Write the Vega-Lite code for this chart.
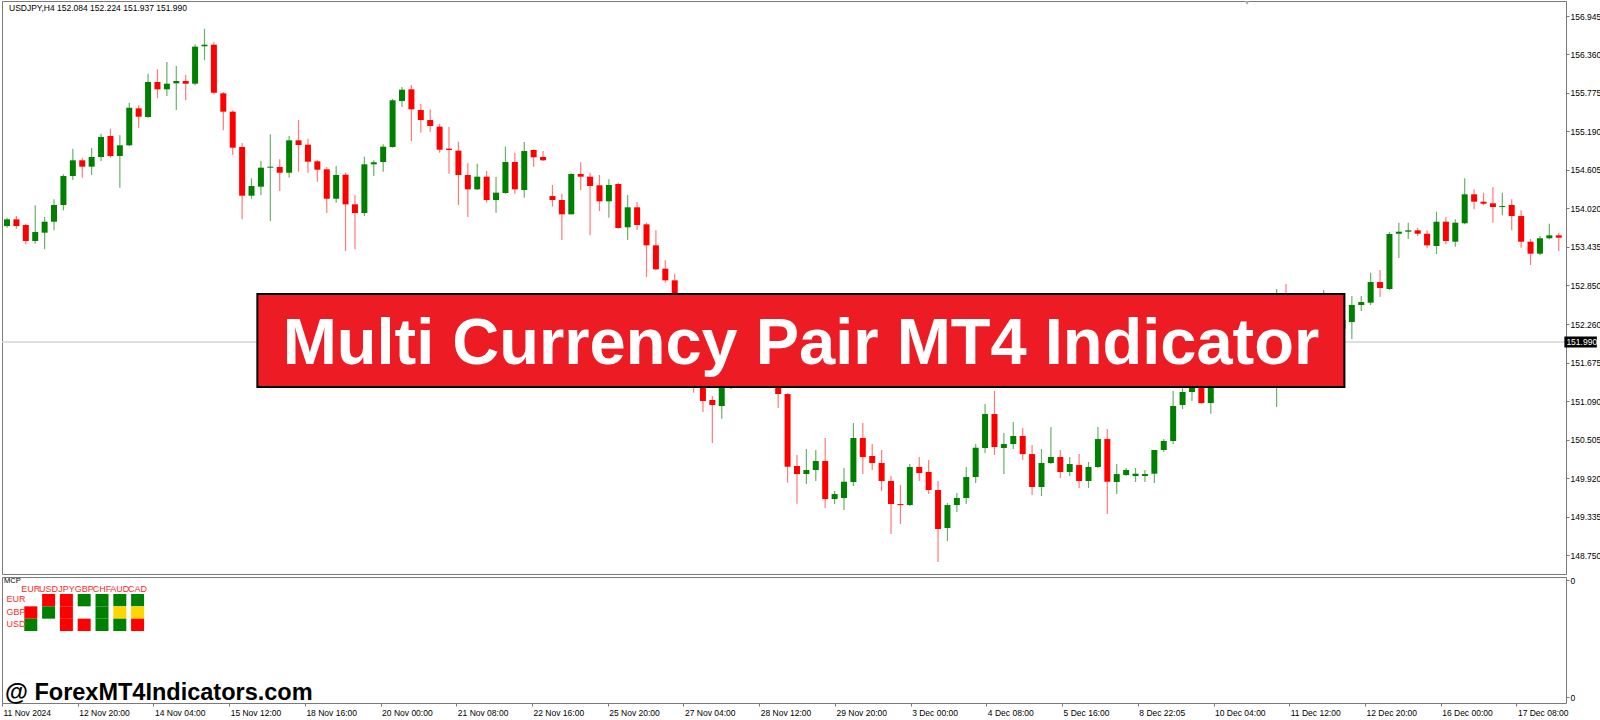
{
"$schema": "https://vega.github.io/schema/vega-lite/v6.json",
"padding": 0,
"spacing": 3,
"bounds": "flush",
"background": "#ffffff",
"config": {
  "font": "Liberation Sans",
  "view": {"stroke": "#7a7a7a", "strokeWidth": 1},
  "axis": {"grid": false, "domain": false, "labelFont": "Liberation Sans", "labelFontSize": 8.5, "labelColor": "#000000", "tickColor": "#7a7a7a", "title": null}
},
"datasets": {
"candles": [
{"i":0,"o":153.753,"h":153.880,"l":153.728,"c":153.855},
{"i":1,"o":153.855,"h":153.905,"l":153.712,"c":153.753},
{"i":2,"o":153.769,"h":153.788,"l":153.475,"c":153.526},
{"i":3,"o":153.526,"h":154.068,"l":153.484,"c":153.662},
{"i":4,"o":153.652,"h":153.890,"l":153.399,"c":153.819},
{"i":5,"o":153.819,"h":154.159,"l":153.688,"c":154.073},
{"i":6,"o":154.073,"h":154.539,"l":153.992,"c":154.513},
{"i":7,"o":154.513,"h":154.928,"l":154.453,"c":154.752},
{"i":8,"o":154.752,"h":154.792,"l":154.488,"c":154.655},
{"i":9,"o":154.655,"h":154.939,"l":154.529,"c":154.802},
{"i":10,"o":154.802,"h":155.156,"l":154.741,"c":155.106},
{"i":11,"o":155.121,"h":155.232,"l":154.792,"c":154.817},
{"i":12,"o":154.817,"h":155.132,"l":154.336,"c":154.980},
{"i":13,"o":154.980,"h":155.627,"l":154.969,"c":155.551},
{"i":14,"o":155.542,"h":155.588,"l":155.247,"c":155.415},
{"i":15,"o":155.410,"h":156.068,"l":155.399,"c":155.942},
{"i":16,"o":155.942,"h":156.135,"l":155.694,"c":155.831},
{"i":17,"o":155.831,"h":156.246,"l":155.729,"c":155.916},
{"i":18,"o":155.922,"h":156.185,"l":155.516,"c":155.957},
{"i":19,"o":155.957,"h":156.048,"l":155.664,"c":155.916},
{"i":20,"o":155.916,"h":156.515,"l":155.892,"c":156.479},
{"i":21,"o":156.485,"h":156.752,"l":156.272,"c":156.509},
{"i":22,"o":156.509,"h":156.550,"l":155.755,"c":155.779},
{"i":23,"o":155.770,"h":155.790,"l":155.208,"c":155.491},
{"i":24,"o":155.491,"h":155.512,"l":154.833,"c":154.944},
{"i":25,"o":154.954,"h":155.015,"l":153.855,"c":154.214},
{"i":26,"o":154.214,"h":154.478,"l":154.168,"c":154.361},
{"i":27,"o":154.351,"h":154.741,"l":154.220,"c":154.640},
{"i":28,"o":154.640,"h":155.147,"l":153.829,"c":154.655},
{"i":29,"o":154.650,"h":154.767,"l":154.285,"c":154.563},
{"i":30,"o":154.563,"h":155.121,"l":154.488,"c":155.056},
{"i":31,"o":155.056,"h":155.364,"l":154.579,"c":154.984},
{"i":32,"o":154.989,"h":155.080,"l":154.563,"c":154.731},
{"i":33,"o":154.737,"h":154.757,"l":154.427,"c":154.609},
{"i":34,"o":154.615,"h":154.650,"l":153.951,"c":154.168},
{"i":35,"o":154.168,"h":154.665,"l":154.108,"c":154.529},
{"i":36,"o":154.533,"h":154.563,"l":153.374,"c":154.083},
{"i":37,"o":154.083,"h":154.220,"l":153.399,"c":153.951},
{"i":38,"o":153.951,"h":154.807,"l":153.905,"c":154.691},
{"i":39,"o":154.691,"h":154.752,"l":154.513,"c":154.722},
{"i":40,"o":154.726,"h":154.995,"l":154.579,"c":154.959},
{"i":41,"o":154.954,"h":155.688,"l":154.944,"c":155.664},
{"i":42,"o":155.653,"h":155.866,"l":155.562,"c":155.825},
{"i":43,"o":155.831,"h":155.896,"l":155.045,"c":155.527},
{"i":44,"o":155.516,"h":155.612,"l":155.171,"c":155.364},
{"i":45,"o":155.364,"h":155.527,"l":155.187,"c":155.273},
{"i":46,"o":155.263,"h":155.308,"l":154.868,"c":154.913},
{"i":47,"o":154.928,"h":155.258,"l":154.548,"c":154.909},
{"i":48,"o":154.898,"h":155.035,"l":154.073,"c":154.529},
{"i":49,"o":154.529,"h":154.706,"l":153.890,"c":154.311},
{"i":50,"o":154.311,"h":154.700,"l":154.301,"c":154.503},
{"i":51,"o":154.503,"h":154.589,"l":154.108,"c":154.149},
{"i":52,"o":154.149,"h":154.498,"l":153.956,"c":154.260},
{"i":53,"o":154.255,"h":154.959,"l":154.244,"c":154.726},
{"i":54,"o":154.726,"h":154.868,"l":154.244,"c":154.311},
{"i":55,"o":154.301,"h":155.030,"l":154.184,"c":154.893},
{"i":56,"o":154.909,"h":154.919,"l":154.655,"c":154.798},
{"i":57,"o":154.802,"h":154.893,"l":154.741,"c":154.752},
{"i":58,"o":154.209,"h":154.377,"l":154.047,"c":154.149},
{"i":59,"o":154.149,"h":154.244,"l":153.541,"c":153.931},
{"i":60,"o":153.931,"h":154.554,"l":153.931,"c":154.544},
{"i":61,"o":154.544,"h":154.722,"l":154.301,"c":154.503},
{"i":62,"o":154.503,"h":154.563,"l":153.612,"c":154.361},
{"i":63,"o":154.372,"h":154.529,"l":153.981,"c":154.129},
{"i":64,"o":154.129,"h":154.463,"l":153.880,"c":154.377},
{"i":65,"o":154.392,"h":154.412,"l":153.712,"c":153.723},
{"i":66,"o":153.734,"h":154.225,"l":153.541,"c":154.038},
{"i":67,"o":154.038,"h":154.118,"l":153.693,"c":153.769},
{"i":68,"o":153.779,"h":153.804,"l":152.978,"c":153.460},
{"i":69,"o":153.460,"h":153.688,"l":153.080,"c":153.095},
{"i":70,"o":153.105,"h":153.232,"l":152.892,"c":152.928},
{"i":71,"o":152.928,"h":153.029,"l":152.538,"c":152.614},
{"i":72,"o":152.614,"h":152.690,"l":152.158,"c":152.310},
{"i":73,"o":152.340,"h":152.401,"l":151.220,"c":151.474},
{"i":74,"o":151.519,"h":151.611,"l":150.927,"c":151.094},
{"i":75,"o":151.109,"h":151.170,"l":150.456,"c":151.033},
{"i":76,"o":151.018,"h":151.550,"l":150.825,"c":151.428},
{"i":77,"o":151.428,"h":151.854,"l":151.276,"c":151.778},
{"i":78,"o":151.763,"h":152.112,"l":151.671,"c":152.006},
{"i":79,"o":151.991,"h":152.082,"l":151.702,"c":151.823},
{"i":80,"o":151.854,"h":152.279,"l":151.763,"c":152.158},
{"i":81,"o":152.158,"h":152.234,"l":151.626,"c":151.702},
{"i":82,"o":151.702,"h":151.778,"l":150.987,"c":151.200},
{"i":83,"o":151.200,"h":151.215,"l":149.852,"c":150.095},
{"i":84,"o":150.106,"h":150.273,"l":149.533,"c":149.984},
{"i":85,"o":149.984,"h":150.364,"l":149.832,"c":150.045},
{"i":86,"o":150.045,"h":150.349,"l":149.878,"c":150.182},
{"i":87,"o":150.182,"h":150.532,"l":149.468,"c":149.604},
{"i":88,"o":149.604,"h":149.726,"l":149.528,"c":149.680},
{"i":89,"o":149.620,"h":150.076,"l":149.437,"c":149.867},
{"i":90,"o":149.863,"h":150.759,"l":149.802,"c":150.532},
{"i":91,"o":150.532,"h":150.759,"l":149.984,"c":150.243},
{"i":92,"o":150.258,"h":150.440,"l":150.045,"c":150.152},
{"i":93,"o":150.152,"h":150.349,"l":149.726,"c":149.878},
{"i":94,"o":149.878,"h":149.954,"l":149.073,"c":149.528},
{"i":95,"o":149.528,"h":149.817,"l":149.224,"c":149.512},
{"i":96,"o":149.513,"h":150.136,"l":149.498,"c":150.091},
{"i":97,"o":150.091,"h":150.243,"l":149.878,"c":149.999},
{"i":98,"o":150.015,"h":150.197,"l":149.680,"c":149.741},
{"i":99,"o":149.741,"h":149.878,"l":148.647,"c":149.149},
{"i":100,"o":149.164,"h":149.544,"l":148.966,"c":149.513},
{"i":101,"o":149.513,"h":149.696,"l":149.407,"c":149.620},
{"i":102,"o":149.620,"h":150.091,"l":149.528,"c":149.939},
{"i":103,"o":149.939,"h":150.440,"l":149.848,"c":150.384},
{"i":104,"o":150.380,"h":151.048,"l":150.304,"c":150.896},
{"i":105,"o":150.896,"h":151.246,"l":150.273,"c":150.395},
{"i":106,"o":150.380,"h":150.608,"l":149.984,"c":150.440},
{"i":107,"o":150.440,"h":150.775,"l":150.364,"c":150.562},
{"i":108,"o":150.562,"h":150.684,"l":150.197,"c":150.288},
{"i":109,"o":150.288,"h":150.425,"l":149.665,"c":149.787},
{"i":110,"o":149.787,"h":150.364,"l":149.650,"c":150.152},
{"i":111,"o":150.152,"h":150.699,"l":150.136,"c":150.243},
{"i":112,"o":150.243,"h":150.349,"l":149.924,"c":150.015},
{"i":113,"o":150.015,"h":150.243,"l":149.954,"c":150.136},
{"i":114,"o":150.121,"h":150.288,"l":149.772,"c":149.878},
{"i":115,"o":149.878,"h":150.167,"l":149.772,"c":150.091},
{"i":116,"o":150.091,"h":150.699,"l":150.076,"c":150.516},
{"i":117,"o":150.516,"h":150.668,"l":149.376,"c":149.867},
{"i":118,"o":149.863,"h":150.136,"l":149.680,"c":149.984},
{"i":119,"o":149.969,"h":150.076,"l":149.954,"c":150.045},
{"i":120,"o":149.954,"h":150.076,"l":149.863,"c":149.989},
{"i":121,"o":149.954,"h":150.045,"l":149.863,"c":149.984},
{"i":122,"o":149.989,"h":150.349,"l":149.848,"c":150.349},
{"i":123,"o":150.349,"h":150.516,"l":150.319,"c":150.486},
{"i":124,"o":150.486,"h":151.246,"l":150.440,"c":151.018},
{"i":125,"o":151.033,"h":151.291,"l":150.972,"c":151.231},
{"i":126,"o":151.231,"h":151.519,"l":151.094,"c":151.428},
{"i":127,"o":151.550,"h":151.626,"l":151.048,"c":151.063},
{"i":128,"o":151.063,"h":151.671,"l":150.901,"c":151.519},
{"i":129,"o":151.519,"h":151.626,"l":151.322,"c":151.398},
{"i":130,"o":151.398,"h":151.854,"l":151.337,"c":151.778},
{"i":131,"o":151.763,"h":152.036,"l":151.671,"c":151.930},
{"i":132,"o":151.930,"h":152.006,"l":151.611,"c":151.702},
{"i":133,"o":151.702,"h":152.127,"l":151.641,"c":152.036},
{"i":134,"o":152.036,"h":152.158,"l":151.732,"c":151.823},
{"i":135,"o":151.823,"h":152.796,"l":151.003,"c":152.158},
{"i":136,"o":152.158,"h":152.872,"l":151.854,"c":151.930},
{"i":137,"o":151.930,"h":152.234,"l":151.823,"c":152.082},
{"i":138,"o":152.082,"h":152.188,"l":151.778,"c":151.884},
{"i":139,"o":151.884,"h":152.340,"l":151.823,"c":152.234},
{"i":140,"o":152.234,"h":152.781,"l":152.158,"c":152.386},
{"i":141,"o":152.386,"h":152.492,"l":152.067,"c":152.158},
{"i":142,"o":152.188,"h":152.431,"l":152.112,"c":152.325},
{"i":143,"o":152.294,"h":152.690,"l":152.036,"c":152.553},
{"i":144,"o":152.553,"h":152.690,"l":152.462,"c":152.598},
{"i":145,"o":152.588,"h":153.044,"l":152.553,"c":152.902},
{"i":146,"o":152.902,"h":153.085,"l":152.674,"c":152.811},
{"i":147,"o":152.796,"h":153.662,"l":152.781,"c":153.632},
{"i":148,"o":153.636,"h":153.804,"l":153.267,"c":153.667},
{"i":149,"o":153.667,"h":153.804,"l":153.556,"c":153.688},
{"i":150,"o":153.688,"h":153.728,"l":153.602,"c":153.636},
{"i":151,"o":153.636,"h":153.688,"l":153.415,"c":153.460},
{"i":152,"o":153.450,"h":153.971,"l":153.328,"c":153.819},
{"i":153,"o":153.819,"h":153.890,"l":153.475,"c":153.526},
{"i":154,"o":153.515,"h":153.855,"l":153.439,"c":153.804},
{"i":155,"o":153.795,"h":154.478,"l":153.779,"c":154.235},
{"i":156,"o":154.235,"h":154.311,"l":154.007,"c":154.123},
{"i":157,"o":154.123,"h":154.260,"l":154.068,"c":154.092},
{"i":158,"o":154.098,"h":154.346,"l":153.804,"c":154.042},
{"i":159,"o":154.042,"h":154.260,"l":153.916,"c":154.057},
{"i":160,"o":154.073,"h":154.159,"l":153.688,"c":153.905},
{"i":161,"o":153.905,"h":153.992,"l":153.424,"c":153.515},
{"i":162,"o":153.515,"h":153.556,"l":153.161,"c":153.333},
{"i":163,"o":153.333,"h":153.602,"l":153.313,"c":153.567},
{"i":164,"o":153.567,"h":153.788,"l":153.551,"c":153.612},
{"i":165,"o":153.612,"h":153.652,"l":153.374,"c":153.576}
],
"mcp": [
{"cur":"EUR","base":"GBP","state":"down"},{"cur":"EUR","base":"USD","state":"up"},
{"cur":"USD","base":"EUR","state":"down"},{"cur":"USD","base":"GBP","state":"up"},
{"cur":"JPY","base":"EUR","state":"down"},{"cur":"JPY","base":"GBP","state":"down"},{"cur":"JPY","base":"USD","state":"down"},
{"cur":"GBP","base":"EUR","state":"up"},{"cur":"GBP","base":"USD","state":"down"},
{"cur":"CHF","base":"EUR","state":"up"},{"cur":"CHF","base":"GBP","state":"up"},{"cur":"CHF","base":"USD","state":"up"},
{"cur":"AUD","base":"EUR","state":"up"},{"cur":"AUD","base":"GBP","state":"flat"},{"cur":"AUD","base":"USD","state":"up"},
{"cur":"CAD","base":"EUR","state":"up"},{"cur":"CAD","base":"GBP","state":"flat"},{"cur":"CAD","base":"USD","state":"down"}
],
"header": [{"t":"USDJPY,H4  152.084 152.224 151.937 151.990"}],
"banner": [{"t":"Multi Currency Pair MT4 Indicator"}],
"bid": [{"t":"151.990","p":151.990}],
"water": [{"t":"@ ForexMT4Indicators.com"}],
"mcpname": [{"t":"MCP"}]
},
"vconcat": [
{
  "width": 1564,
  "height": 573,
  "layer": [
    {
      "data": {"name": "candles"},
      "mark": {"type": "rule", "strokeWidth": 1.2, "clip": true},
      "encoding": {
        "x": {"field": "i", "type": "quantitative", "scale": {"domain": [0, 165.24], "nice": false, "zero": false}, "axis": null},
        "y": {"field": "l", "type": "quantitative", "scale": {"domain": [148.465, 157.173], "nice": false, "zero": false},
              "axis": {"orient": "right", "values": [148.75,149.335,149.92,150.505,151.09,151.675,152.26,152.85,153.435,154.02,154.605,155.19,155.775,156.36,156.945], "format": ".3f", "tickSize": 3, "labelPadding": 1}},
        "y2": {"field": "h"},
        "color": {"condition": {"test": "datum.c >= datum.o", "value": "#6bb06b"}, "value": "#ff7a7a"}
      }
    },
    {
      "data": {"name": "bid"},
      "mark": {"type": "rule", "color": "#d4d4d4", "strokeWidth": 1.5},
      "encoding": {"y": {"field": "p", "type": "quantitative"}}
    },
    {
      "data": {"name": "candles"},
      "mark": {"type": "bar", "width": 6, "clip": true},
      "encoding": {
        "x": {"field": "i", "type": "quantitative"},
        "y": {"field": "o", "type": "quantitative"},
        "y2": {"field": "c"},
        "color": {"condition": {"test": "datum.c >= datum.o", "value": "#008000"}, "value": "#ff0000"}
      }
    },
    {
      "data": {"name": "banner"},
      "mark": {"type": "rect", "fill": "#ed1c24", "stroke": "#000000", "strokeWidth": 2},
      "encoding": {
        "x": {"datum": 26.62, "type": "quantitative"},
        "x2": {"datum": 142.21},
        "y": {"datum": 152.720, "type": "quantitative"},
        "y2": {"datum": 151.307}
      }
    },
    {
      "data": {"name": "banner"},
      "mark": {"type": "text", "font": "Liberation Sans", "fontWeight": "bold", "fontSize": 65, "color": "#ffffff", "align": "center", "baseline": "middle", "dy": 3},
      "encoding": {
        "x": {"datum": 84.42, "type": "quantitative"},
        "y": {"datum": 152.006, "type": "quantitative"},
        "text": {"field": "t"}
      }
    },
    {
      "data": {"name": "header"},
      "mark": {"type": "text", "fontSize": 8.5, "color": "#000000", "align": "left", "baseline": "middle", "dx": 2},
      "encoding": {
        "x": {"datum": 0, "type": "quantitative"},
        "y": {"datum": 157.067, "type": "quantitative"},
        "text": {"field": "t"}
      }
    },
    {
      "data": {"name": "bid"},
      "mark": {"type": "rect", "fill": "#000000"},
      "encoding": {
        "x": {"datum": 165.6, "type": "quantitative"},
        "x2": {"datum": 169.05},
        "y": {"datum": 152.074, "type": "quantitative"},
        "y2": {"datum": 151.906}
      }
    },
    {
      "data": {"name": "bid"},
      "mark": {"type": "text", "fontSize": 8.5, "color": "#ffffff", "align": "left", "baseline": "middle", "dx": 2},
      "encoding": {
        "x": {"datum": 165.6, "type": "quantitative"},
        "y": {"field": "p", "type": "quantitative"},
        "text": {"field": "t"}
      }
    },
    {
      "data": {"name": "header"},
      "mark": {"type": "point", "shape": "triangle-down", "filled": true, "color": "#a8a8a8", "size": 45, "opacity": 1, "clip": true},
      "encoding": {
        "x": {"datum": 131.86, "type": "quantitative"},
        "y": {"datum": 157.16, "type": "quantitative"}
      }
    }
  ]
},
{
  "width": 1564,
  "height": 126,
  "resolve": {"scale": {"x": "independent", "y": "independent", "color": "independent"}, "axis": {"x": "independent", "y": "independent"}},
  "layer": [
    {
      "layer": [
        {
          "data": {"name": "water"},
          "mark": {"type": "text", "fontSize": 23.5, "fontWeight": "bold", "color": "#000000", "align": "left", "baseline": "middle", "dx": 3},
          "encoding": {
            "x": {"datum": 0, "type": "quantitative", "scale": {"domain": [0, 165.24], "nice": false, "zero": false},
                  "axis": {"orient": "bottom", "values": [0,8,16,24,32,40,48,56,64,72,80,88,96,104,112,120,128,136,144,152,160],
                           "labelExpr": "['11 Nov 2024','12 Nov 20:00','14 Nov 04:00','15 Nov 12:00','18 Nov 16:00','20 Nov 00:00','21 Nov 08:00','22 Nov 16:00','25 Nov 20:00','27 Nov 04:00','28 Nov 12:00','29 Nov 20:00','3 Dec 00:00','4 Dec 08:00','5 Dec 16:00','8 Dec 22:05','10 Dec 04:00','11 Dec 12:00','12 Dec 20:00','16 Dec 00:00','17 Dec 08:00'][round(datum.value/8)]",
                           "labelAlign": "left", "labelOffset": 1, "tickSize": 3, "labelPadding": 2, "labelFlush": false, "labelOverlap": false}},
            "y": {"datum": 0.079, "type": "quantitative", "scale": {"domain": [0, 1], "nice": false, "zero": false},
                  "axis": {"orient": "right", "values": [0.045, 0.975], "labelExpr": "'0'", "tickSize": 3, "labelPadding": 1}},
            "text": {"field": "t"}
          }
        },
        {
          "data": {"name": "mcpname"},
          "mark": {"type": "text", "fontSize": 7.5, "color": "#000000", "align": "left", "baseline": "middle", "dx": 2},
          "encoding": {
            "x": {"datum": 0, "type": "quantitative"},
            "y": {"datum": 0.965, "type": "quantitative"},
            "text": {"field": "t"}
          }
        }
      ]
    },
    {
      "data": {"name": "mcp"},
      "mark": {"type": "rect"},
      "encoding": {
        "x": {"field": "cur", "type": "nominal", "scale": {"domain": ["EUR","USD","JPY","GBP","CHF","AUD","CAD"], "range": [22.3, 142.1], "paddingInner": 0.27, "paddingOuter": 0},
              "axis": {"orient": "top", "offset": -16, "ticks": false, "labelPadding": 0, "labelAngle": 0, "labelColor": "#ff2a2a", "labelFontSize": 9}},
        "y": {"field": "base", "type": "nominal", "scale": {"domain": ["EUR","GBP","USD"], "range": [17, 54], "paddingInner": 0, "paddingOuter": 0},
              "axis": {"orient": "left", "offset": -23, "ticks": false, "labelPadding": 0, "labelColor": "#ff2a2a", "labelFontSize": 9, "labelOffset": -1}},
        "color": {"field": "state", "type": "nominal", "scale": {"domain": ["up","down","flat"], "range": ["#008000","#ff0000","#ffd700"]}, "legend": null}
      }
    }
  ]
}
]
}
